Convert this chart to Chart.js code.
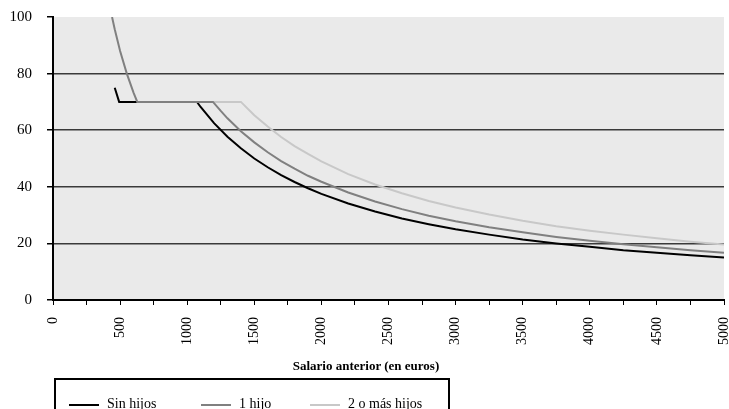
<!DOCTYPE html>
<html>
<head>
<meta charset="utf-8">
<script src="https://cdn.jsdelivr.net/npm/chart.js@4/dist/chart.umd.min.js"></script>
<style>
  html, body { margin: 0; padding: 0; background: #fff; }
  body { width: 729px; height: 409px; overflow: hidden; position: relative; font-family: "Liberation Serif", "Times New Roman", serif; }
  #wrap { position: absolute; left: 0; top: 0; width: 729px; height: 409px; }
  #xtitle { position: absolute; top: 358px; left: 266px; width: 200px; text-align: center; font-weight: bold; font-size: 13px; }
  #legend { position: absolute; left: 54px; top: 378px; width: 392px; height: 40px; border: 2px solid #000; font-size: 14px; }
  #legend .item { position: absolute; top: 16px; line-height: 16px; white-space: nowrap; }
  #legend .sw { display: inline-block; width: 30px; height: 2px; vertical-align: middle; margin-right: 8px; }
</style>
</head>
<body>
<div id="wrap"><canvas id="chart" width="729" height="409"></canvas></div>
<div id="xtitle">Salario anterior (en euros)</div>
<div id="legend"></div>
<script>
// series labels and colours
var seriesNames = ['Sin hijos', '1 hijo', '2 o más hijos'];
var seriesColors = ['#000000', '#808080', '#c8c8c8'];

// salario anterior (euros) / tasa (%)
var salarioSinHijos = [460, 493, 1073, 1100, 1200, 1300, 1400, 1500, 1600, 1700, 1800, 1900, 2000, 2200, 2400, 2600, 2800, 3000, 3250, 3500, 3750, 4000, 4250, 4500, 4750, 5000];
var tasaSinHijos    = [75, 70, 70, 68.2, 62.5, 57.7, 53.6, 50.0, 46.9, 44.1, 41.7, 39.5, 37.5, 34.1, 31.3, 28.8, 26.8, 25.0, 23.1, 21.4, 20.0, 18.8, 17.6, 16.7, 15.8, 15.0];

var salario1Hijo = [440, 460, 500, 550, 600, 628, 1192, 1250, 1300, 1400, 1500, 1600, 1700, 1800, 1900, 2000, 2200, 2400, 2600, 2800, 3000, 3250, 3500, 3750, 4000, 4250, 4500, 4750, 5000];
var tasa1Hijo    = [100, 95.7, 88, 80, 73.3, 70, 70, 66.8, 64.2, 59.6, 55.7, 52.2, 49.1, 46.4, 43.9, 41.8, 38.0, 34.8, 32.1, 29.8, 27.8, 25.7, 23.9, 22.3, 20.9, 19.7, 18.6, 17.6, 16.7];

var salario2Hijos = [628, 1400, 1500, 1600, 1700, 1800, 1900, 2000, 2200, 2400, 2600, 2800, 3000, 3250, 3500, 3750, 4000, 4250, 4500, 4750, 5000];
var tasa2Hijos    = [70, 70, 65.3, 61.3, 57.6, 54.4, 51.6, 49.0, 44.5, 40.8, 37.7, 35.0, 32.7, 30.2, 28.0, 26.1, 24.5, 23.1, 21.8, 20.6, 19.6];

var xTicks = [0, 500, 1000, 1500, 2000, 2500, 3000, 3500, 4000, 4500, 5000];
var yTicks = [0, 20, 40, 60, 80, 100];

function pts(xs, ys) {
  var out = [];
  for (var i = 0; i < xs.length; i++) out.push({ x: xs[i], y: ys[i] });
  return out;
}

var datasets = [
  { label: seriesNames[0], data: pts(salarioSinHijos, tasaSinHijos), borderColor: seriesColors[0], order: 1 },
  { label: seriesNames[1], data: pts(salario1Hijo, tasa1Hijo), borderColor: seriesColors[1], order: 0 },
  { label: seriesNames[2], data: pts(salario2Hijos, tasa2Hijos), borderColor: seriesColors[2], order: 2 }
];
datasets.forEach(function (d) {
  d.borderWidth = 2;
  d.pointRadius = 0;
  d.tension = 0;
  d.fill = false;
});

// grey plot background
var plotBg = {
  id: 'plotBg',
  beforeDraw: function (chart) {
    var a = chart.chartArea, ctx = chart.ctx;
    ctx.save();
    ctx.fillStyle = '#eaeaea';
    ctx.fillRect(a.left, a.top, a.right - a.left, a.bottom - a.top);
    ctx.restore();
  }
};

new Chart(document.getElementById('chart').getContext('2d'), {
  type: 'line',
  data: { datasets: datasets },
  plugins: [plotBg],
  options: {
    responsive: false,
    animation: false,
    layout: { padding: { top: 17, right: 5, left: 0, bottom: 0 } },
    plugins: { legend: { display: false }, tooltip: { enabled: false } },
    scales: {
      x: {
        type: 'linear',
        min: 0,
        max: 5000,
        afterFit: function (s) { s.height = 109; s.paddingLeft = 0; s.paddingRight = 0; },
        border: { color: '#000', width: 2 },
        grid: { drawOnChartArea: false, color: '#000', tickLength: 5 },
        ticks: {
          stepSize: 250,
          autoSkip: false,
          minRotation: 90,
          maxRotation: 90,
          padding: 12,
          color: '#000',
          font: { family: 'Liberation Serif', size: 14 },
          callback: function (v) { return xTicks.indexOf(v) >= 0 ? String(v) : ''; }
        }
      },
      y: {
        min: 0,
        max: 100,
        afterFit: function (s) { s.width = 53; s.paddingTop = 0; s.paddingBottom = 0; },
        border: { color: '#000', width: 2 },
        grid: {
          color: function (c) { return (c.tick && (c.tick.value === 0 || c.tick.value === 100)) ? 'rgba(0,0,0,0)' : '#3a3a3a'; },
          lineWidth: 1.5,
          tickColor: '#000',
          tickLength: 6
        },
        ticks: {
          stepSize: 20,
          padding: 15,
          color: '#000',
          font: { family: 'Liberation Serif', size: 15 },
          callback: function (v) { return yTicks.indexOf(v) >= 0 ? String(v) : ''; }
        }
      }
    }
  }
});

// legend box below the chart
var legend = document.getElementById('legend');
var lefts = [13, 145, 254];
seriesNames.forEach(function (name, i) {
  var item = document.createElement('div');
  item.className = 'item';
  item.style.left = lefts[i] + 'px';
  item.innerHTML = '<span class="sw" style="background:' + seriesColors[i] + '"></span>' + name;
  legend.appendChild(item);
});
</script>
</body>
</html>
